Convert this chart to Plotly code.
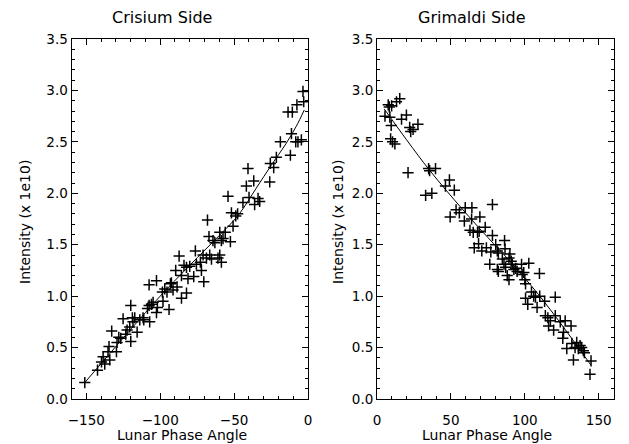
import plotly.graph_objects as go

# Crisium side (negative phase angles)
crisium_angle = [-151.0, -142.4, -139.7, -138.6, -137.5, -135.3, -134.6, -134.1, -132.8, -129.6,
                 -129.2, -128.0, -126.7, -123.3, -122.4, -120.6, -119.9, -119.9, -125.1, -118.8,
                 -117.2, -118.4, -115.6, -113.8, -111.6, -111.1, -107.1, -108.6, -107.5, -107.5,
                 -105.9, -104.8, -102.5, -102.5, -101.9, -98.5, -98.1, -96.9, -95.4, -94.0,
                 -93.1, -92.4, -88.6, -87.2, -85.6, -85.6, -83.9, -82.2, -82.2, -80.0,
                 -77.3, -76.2, -75.5, -72.8, -72.1, -70.5, -71.0, -68.7, -67.0, -66.5,
                 -65.3, -64.3, -60.9, -59.7, -58.6, -58.6, -59.7, -57.5, -52.5, -50.7,
                 -68.0, -54.1, -51.8, -48.9, -47.6, -44.0, -41.7, -40.6, -39.9, -36.7,
                 -36.1, -33.8, -32.7, -25.9, -25.5, -23.2, -21.4, -18.7, -11.9, -11.2,
                 -13.5, -10.6, -8.3, -6.8, -7.5, -4.5, -2.9, -3.4, -56.0, -63.0,
                 -89.5, -81.2, -91.3]
crisium_int = [0.16, 0.28, 0.36, 0.41, 0.34, 0.46, 0.51, 0.38, 0.66, 0.46,
               0.55, 0.60, 0.59, 0.63, 0.67, 0.70, 0.56, 0.91, 0.78, 0.79,
               0.79, 0.75, 0.65, 0.77, 0.79, 0.77, 0.75, 0.88, 0.91, 1.11,
               0.92, 0.94, 1.15, 0.84, 0.89, 1.04, 0.95, 1.07, 1.04, 0.87,
               1.12, 1.13, 1.09, 1.39, 0.98, 1.20, 1.30, 1.03, 1.28, 1.29,
               1.19, 1.44, 1.31, 1.33, 1.25, 1.14, 1.40, 1.37, 1.58, 1.40,
               1.36, 1.54, 1.37, 1.40, 1.54, 1.33, 1.62, 1.56, 1.53, 1.68,
               1.74, 1.97, 1.81, 1.78, 1.80, 1.91, 2.07, 2.24, 1.96, 2.12,
               1.89, 1.95, 1.92, 2.11, 2.29, 2.25, 2.35, 2.50, 2.37, 2.58,
               2.79, 2.79, 2.50, 2.50, 2.86, 2.52, 2.89, 2.99, 1.62, 1.52,
               1.25, 1.17, 1.06]
# fitted curve
crisium_fit_angle = [-151, -130, -110, -100, -80, -60, -47, -35, -25, -15, -8, -2.5]
crisium_fit_int = [0.16, 0.51, 0.84, 1.00, 1.30, 1.59, 1.79, 2.05, 2.27, 2.48, 2.65, 2.81]

# Grimaldi side (positive phase angles)
grimaldi_angle = [5.4, 7.6, 8.3, 9.9, 8.7, 9.6, 9.2, 10.5, 12.1, 13.2,
                  15.4, 16.6, 19.9, 21.0, 22.1, 22.8, 24.4, 27.7, 32.9, 34.9,
                  35.6, 37.1, 39.6, 46.3, 49.0, 49.5, 52.3, 53.5, 55.7, 59.7,
                  64.2, 59.1, 62.9, 64.0, 65.1, 68.0, 69.6, 73.2, 78.1, 78.1,
                  69.1, 65.8, 68.7, 70.9, 74.0, 77.0, 80.3, 81.4, 82.1, 76.3,
                  82.1, 84.8, 86.3, 86.6, 87.0, 88.1, 89.3, 89.9, 90.8, 91.5,
                  92.6, 93.8, 94.8, 97.8, 98.2, 99.3, 100.0, 100.5, 102.7, 100.5,
                  102.0, 104.5, 106.0, 107.2, 108.3, 109.9, 110.1, 113.4, 120.6, 113.9,
                  115.6, 116.1, 117.3, 119.5, 120.6, 124.0, 126.2, 127.3, 131.3, 125.7,
                  128.4, 131.8, 134.0, 135.1, 136.2, 137.4, 138.5, 139.6, 132.9, 140.3,
                  144.8, 144.1, 85.9, 89.3, 81.4]
grimaldi_int = [2.75, 2.86, 2.84, 2.85, 2.74, 2.66, 2.53, 2.50, 2.48, 2.89,
                2.92, 2.72, 2.76, 2.20, 2.64, 2.60, 2.62, 2.67, 1.98, 2.24,
                2.22, 2.00, 2.24, 2.07, 2.13, 1.77, 2.03, 1.84, 1.81, 1.86,
                1.86, 1.73, 1.64, 1.75, 1.62, 1.62, 1.77, 1.67, 1.89, 1.59,
                1.63, 1.47, 1.51, 1.44, 1.47, 1.43, 1.50, 1.44, 1.42, 1.31,
                1.24, 1.36, 1.54, 1.46, 1.28, 1.20, 1.16, 1.41, 1.34, 1.31,
                1.26, 1.27, 1.24, 1.31, 1.21, 1.23, 1.16, 1.12, 1.32, 0.98,
                0.92, 1.04, 1.00, 0.99, 0.89, 1.22, 1.00, 0.95, 0.99, 0.81,
                0.79, 0.71, 0.76, 0.67, 0.81, 0.75, 0.65, 0.76, 0.71, 0.59,
                0.49, 0.54, 0.50, 0.55, 0.49, 0.52, 0.50, 0.47, 0.38, 0.45,
                0.37, 0.24, 1.31, 1.37, 1.26]
grimaldi_fit_angle = [4.9, 20, 35.8, 57.5, 75, 89.9, 109, 125, 144.7]
grimaldi_fit_int = [2.82, 2.52, 2.22, 1.85, 1.57, 1.34, 1.02, 0.72, 0.33]

FONT = "DejaVu Sans"
OFF = 8  # page body margin shifts the figure by this many px
W, H = 629, 444

fig = go.Figure()

cross = dict(symbol="cross-thin", size=8, color="black", line=dict(width=1.5, color="black"))

fig.add_trace(go.Scatter(x=crisium_angle, y=crisium_int, mode="markers", marker=cross,
                         xaxis="x", yaxis="y", showlegend=False))
fig.add_trace(go.Scatter(x=crisium_fit_angle, y=crisium_fit_int, mode="lines", line_shape="spline",
                         line=dict(color="black", width=1), xaxis="x", yaxis="y", showlegend=False))
fig.add_trace(go.Scatter(x=grimaldi_angle, y=grimaldi_int, mode="markers", marker=cross,
                         xaxis="x2", yaxis="y2", showlegend=False))
fig.add_trace(go.Scatter(x=grimaldi_fit_angle, y=grimaldi_fit_int, mode="lines", line_shape="spline",
                         line=dict(color="black", width=1), xaxis="x2", yaxis="y2", showlegend=False))

axis_common = dict(
    showline=True, linecolor="black", linewidth=1, mirror="allticks",
    ticks="inside", ticklen=6, tickwidth=1, tickcolor="black",
    showgrid=False, zeroline=False, automargin=False,
    tickfont=dict(family=FONT, size=13.5, color="black"),
)
xminor = dict(dtick=10, ticks="inside", ticklen=3, tickwidth=1, tickcolor="black", showgrid=False)
yminor = dict(dtick=0.1, ticks="inside", ticklen=3, tickwidth=1, tickcolor="black", showgrid=False)

# panel boxes in window pixels (left, right, top, bottom)
box1 = (71.5, 308, 39, 399)
box2 = (377, 613.5, 39, 399)


def px(x):
    return (x - OFF) / W


def py(y):
    return (H - (y - OFF)) / H


ydom = [py(box1[3]), py(box1[2])]


def label(text, x, y, size, angle=0):
    return dict(text=text, x=px(x), y=py(y), xref="paper", yref="paper",
                xanchor="center", yanchor="middle", textangle=angle, showarrow=False,
                font=dict(family=FONT, size=size, color="black"))


fig.update_layout(
    width=W, height=H,
    paper_bgcolor="white", plot_bgcolor="white",
    margin=dict(l=0, r=0, t=0, b=0),
    xaxis=dict(domain=[px(box1[0]), px(box1[1])], range=[-160, 0], dtick=50, tick0=0,
               minor=xminor, ticklabelstandoff=9, anchor="y", **axis_common),
    yaxis=dict(domain=ydom, range=[0, 3.5], dtick=0.5, tick0=0, tickformat=".1f",
               minor=yminor, anchor="x", **axis_common),
    xaxis2=dict(domain=[px(box2[0]), px(box2[1])], range=[0, 160], dtick=50, tick0=0,
                minor=xminor, ticklabelstandoff=9, anchor="y2", **axis_common),
    yaxis2=dict(domain=ydom, range=[0, 3.5], dtick=0.5, tick0=0, tickformat=".1f",
                minor=yminor, anchor="x2", **axis_common),
    annotations=[
        label("Crisium Side", 162, 18, 16),
        label("Grimaldi Side", 472, 18, 16),
        label("Lunar Phase Angle", 182, 435, 14),
        label("Lunar Phase Angle", 487, 435, 14),
        label("Intensity (x 1e10)", 25, 222, 14, -90),
        label("Intensity (x 1e10)", 338, 222, 14, -90),
    ],
)

fig.write_html("out.html")
